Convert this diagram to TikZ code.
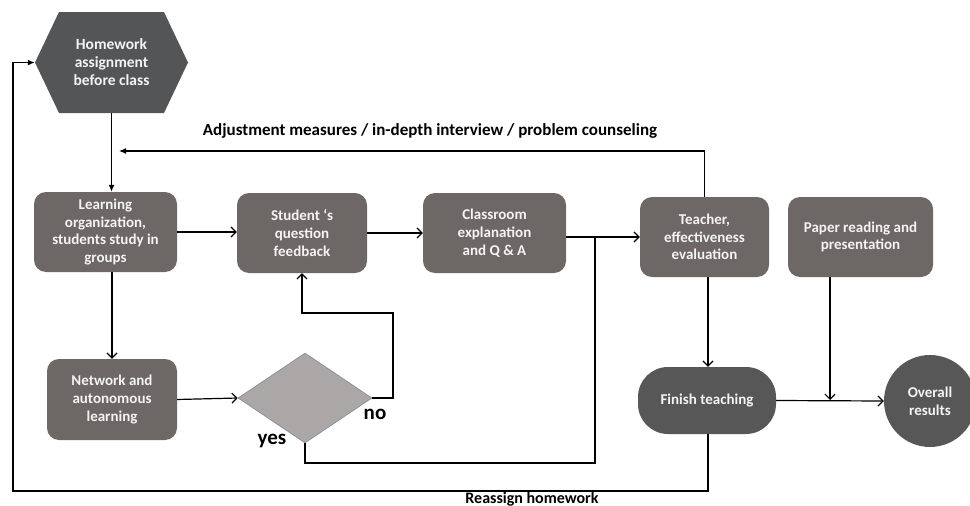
\documentclass[tikz,border=0pt]{standalone}
\usepackage{fontspec}
\setmainfont{Carlito}
\usetikzlibrary{arrows.meta,shapes.geometric}
\definecolor{boxgray}{HTML}{6D6866}
\definecolor{darkgray}{HTML}{575757}
\definecolor{hexgray}{HTML}{545557}
\definecolor{diagray}{HTML}{AAA7A6}
\definecolor{diaedge}{HTML}{7F8C99}
\definecolor{txtwhite}{HTML}{F4F4F4}
\tikzset{
  boxnode/.style={rectangle, rounded corners=12pt, fill=boxgray, text=txtwhite,
    align=center, inner sep=0pt, font=\bfseries\fontsize{15}{17.7}\selectfont},
  conn/.style={line width=1.2pt, draw=black},
  arr/.style={conn, -{Straight Barb[length=5pt,width=10pt,line width=1.2pt]}},
  farr/.style={conn, -{Latex[length=7pt,width=6pt]}},
  lbl/.style={font=\bfseries\fontsize{17}{20}\selectfont, text=black, inner sep=0pt},
  yn/.style={font=\bfseries\fontsize{21}{24}\selectfont, text=black, inner sep=0pt}
}
\begin{document}
\begin{tikzpicture}[x=1pt,y=-1pt]
\useasboundingbox (0,0) rectangle (970,506);
% hexagon
\fill[hexgray] (35,62.5) -- (59,12) -- (164,12) -- (188,62.5) -- (164,113) -- (59,113) -- cycle;
\node[text=txtwhite, align=center, inner sep=0pt, minimum width=153pt, minimum height=101pt,
  font=\bfseries\fontsize{15.5}{18}\selectfont] (hw) at (111.5,62.5) {Homework\\assignment\\before class};
% boxes
\node[boxnode, minimum width=143pt, minimum height=80pt] (learn) at (105.5,232) {Learning\\organization,\\students study in\\groups};
\node[boxnode, minimum width=130pt, minimum height=80pt] (student) at (302,233) {Student ‘s\\question\\feedback};
\node[boxnode, minimum width=143pt, minimum height=80pt] (class) at (494.5,233) {Classroom\\explanation\\and Q \& A};
\node[boxnode, minimum width=129pt, minimum height=80pt] (teacher) at (704.5,237) {Teacher,\\effectiveness\\evaluation};
\node[boxnode, minimum width=145pt, minimum height=80pt] (paper) at (860.5,237) {Paper reading and\\presentation};
\node[boxnode, minimum width=130pt, minimum height=81pt] (net) at (112,399.5) {Network and\\autonomous\\learning};
\node[diamond, fill=diagray, draw=diaedge, line width=0.6pt, aspect=1.49, inner sep=0pt,
  minimum width=134pt, minimum height=90pt] (dia) at (305,398) {};
\node[boxnode, fill=darkgray, rounded corners=30pt, minimum width=138pt, minimum height=67pt] (finish) at (707,400.5) {Finish teaching};
\node[circle, fill=darkgray, text=txtwhite, align=center, inner sep=0pt, minimum size=92pt,
  font=\bfseries\fontsize{15}{17.7}\selectfont] (overall) at (930,401) {Overall\\results};
% coordinates
\coordinate (adjend) at (119,151);
\coordinate (j1) at (595,237);
\coordinate (j2) at (595,463);
\coordinate (nocorner) at (393,313);
\coordinate (j3) at (830,400);
\coordinate (j4) at (708,491);
\coordinate (j5) at (13,491);
% connectors
\draw[farr] (hw.south) -- (hw.south |- learn.north);
\draw[farr] (teacher.north) -- (teacher.north |- adjend) -- (adjend);
\node[lbl] (adjlbl) at (430,131) {Adjustment measures / in-depth interview / problem counseling};
\draw[arr] (learn.east) -- (learn.east -| student.west);
\draw[arr] (student.east) -- (student.east -| class.west);
\draw[arr] (class.east |- j1) -- (teacher.west |- j1);
\draw[conn] (dia.south) -- (dia.south |- j2) -- (j2) -- (j1);
\draw[arr] (net.north |- learn.south) -- (net.north);
\draw[arr] (net.east) -- (dia.west);
\draw[arr] (dia.east) -- (dia.east -| nocorner) -- (nocorner) -- (student.south |- nocorner) -- (student.south);
\draw[arr] (teacher.south -| j4) -- (finish.north -| j4);
\draw[arr] (j3 |- paper.south) -- (j3);
\draw[arr] (finish.east) -- (overall.west);
\draw[farr] (j4 |- finish.south) -- (j4) -- (j5) -- (j5 |- hw.west) -- (hw.west);
\node[lbl, font=\bfseries\fontsize{16}{19}\selectfont] (relbl) at (532,499) {Reassign homework};
\node[yn] (no) at (375,414) {no};
\node[yn] (yes) at (272,441) {yes};
\end{tikzpicture}
\end{document}
